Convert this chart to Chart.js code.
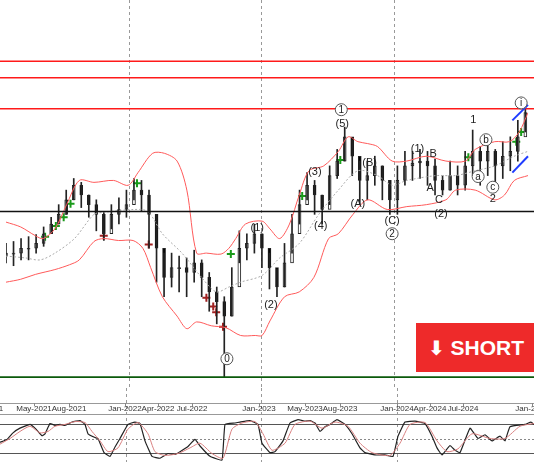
<!DOCTYPE html>
<html><head><meta charset="utf-8">
<script src="https://cdn.jsdelivr.net/npm/chart.js@4/dist/chart.umd.min.js"></script>
<style>
body{margin:0;background:#fff;width:534px;height:462px;overflow:hidden;position:relative;font-family:"Liberation Sans",Arial,sans-serif}
#main{position:absolute;left:0;top:0}
#osc{position:absolute;left:0;top:388px}
#short{position:absolute;left:416px;top:323px;width:130px;height:49px;background:#ee2a2a;color:#fff;font:bold 21px "Liberation Sans",Arial,sans-serif;line-height:49px;padding-left:12px;box-sizing:border-box;white-space:nowrap}
#short span{font-family:"DejaVu Sans";font-size:20px}
</style></head><body>
<canvas id="main" width="534" height="388"></canvas>
<canvas id="osc" width="534" height="74"></canvas>
<div id="short"><span>⬇</span> SHORT</div>
<script>
// price levels are read in chart units (axis is inverted: smaller = higher)
const barStep = 7.7;
const closes = [255,255,250,250,245,235,225,215,200,185, 195,205,215,235,215,210,205,190,195,215,
  250,280,270,270,275,265,280,295,305,320, 290,250,245,235,250,270,290,265,235,205,
  185,195,210,175,160,135,155,180,175,165, 180,200,180,165,162,160,165,180,190,175,
  185,165,150,160,150,165,155,150,135,110];
const highs = [245,243,240,238,236,228,218,205,190,178, 182,195,200,212,205,198,190,178,180,190,
  215,255,255,258,260,252,262,275,290,300, 270,232,235,225,235,255,272,245,215,190,
  172,180,195,165,148,125,138,160,160,155, 165,180,165,150,150,148,150,158,175,160,
  165,150,128,145,138,148,140,135,118,100];
const lows = [265,268,262,262,255,248,235,225,215,200, 208,218,232,242,230,225,218,200,212,250,
  285,300,290,295,300,285,300,315,328,383, 320,265,262,255,270,292,300,290,255,225,
  200,215,225,205,178,160,175,205,200,185, 200,215,215,185,180,178,185,195,195,190,
  195,190,175,185,175,182,178,170,160,130];
const firstOpen = 258;

const upperBand = [[0,223],[15,228],[30,237],[38,240],[50,230],[62,205],[75,180],[90,182],[110,180],[125,185],[135,172],[150,152],[162,152],[175,160],[185,190],[195,255],[205,255],[220,256],[228,250],[235,240],[245,225],[262,222],[270,230],[280,240],[290,225],[300,195],[310,170],[325,165],[340,150],[350,135],[360,140],[370,142],[380,145],[395,160],[410,160],[430,155],[450,160],[470,160],[480,148],[500,140],[515,140],[525,130],[534,110]];
const lowerBand = [[0,285],[15,282],[30,277],[50,272],[65,267],[75,262],[90,243],[100,240],[115,242],[130,242],[140,250],[148,270],[160,300],[175,320],[185,333],[195,326],[210,330],[225,332],[240,340],[255,340],[262,340],[270,325],[285,300],[300,295],[315,280],[330,240],[340,235],[355,215],[370,200],[390,210],[410,207],[430,205],[450,200],[460,190],[480,190],[500,200],[510,195],[520,180],[534,175]];
const midBand = [[0,258],[20,260],[35,262],[50,255],[70,240],[90,215],[100,213],[130,210],[145,212],[160,235],[180,255],[200,280],[215,295],[228,290],[240,285],[262,278],[280,260],[300,245],[320,215],[340,190],[360,170],[380,175],[395,185],[410,180],[440,175],[460,175],[480,170],[500,165],[520,155],[534,150]];

const redLevels = [57, 74, 106];
const blackLevel = 212;
const greenLevel = 383;
const channelLines = [[[518,118],[534,102]], [[518,172],[534,155]]];
const yearLines = [126, 261, 397];

const buySignals = [[40,238],[51,227],[59,218],[66,204],[134,183],[230,256],[303,196],[342,159],[473,156],[522,140],[527,130]];
const sellSignals = [[100,237],[146,246],[205,301],[212,310],[215,316],[222,331]];

// [text, x, level, circled]
const waveLabels = [
  ['1',343,107,true],['(5)',344,121,false],['(3)',316,171,false],['(4)',322,226,false],
  ['(A)',360,204,false],['(B)',372,161,false],['(C)',395,221,false],['2',395,235,true],
  ['(1)',421,147,false],['B',437,152,false],['A',434,187,false],['C',443,200,false],['(2)',445,214,false],
  ['1',478,117,false],['b',491,138,true],['a',483,176,true],['c',498,187,true],['2',498,199,false],
  ['i',527,100,true],['(1)',257,229,false],['(2)',271,308,false],['0',226,364,true]
];

const tickLabels = ['May-2021','Aug-2021','Jan-2022','Apr-2022','Jul-2022','Jan-2023','May-2023','Aug-2023','Jan-2024','Apr-2024','Jul-2024','Jan-2025'];
const tickPos = [34,69,125,158,192,259,305,340,397,430,463,532];

const stochK = [[0,42],[7,48],[13,62],[20,72],[30,80],[36,70],[42,56],[45,60],[50,82],[55,78],[60,80],[65,78],[72,85],[80,88],[85,80],[88,60],[95,52],[98,50],[104,20],[110,12],[115,32],[120,50],[128,80],[135,85],[140,82],[145,45],[152,12],[160,8],[168,18],[175,16],[180,22],[188,33],[195,48],[200,34],[210,12],[222,4],[225,80],[235,83],[240,85],[250,88],[258,80],[262,40],[270,20],[275,22],[283,45],[290,83],[298,90],[305,87],[310,88],[315,83],[320,65],[325,75],[330,80],[337,90],[345,80],[352,60],[360,30],[365,20],[375,15],[385,15],[393,12],[398,55],[405,85],[415,87],[425,82],[432,55],[437,30],[442,15],[450,35],[455,25],[460,20],[470,72],[478,50],[485,58],[492,45],[500,55],[505,45],[510,75],[525,80],[531,85],[534,80]];
const stochD = [[0,38],[10,50],[20,65],[30,76],[40,62],[48,65],[55,76],[65,80],[75,86],[85,84],[92,65],[100,45],[108,22],[118,30],[128,70],[138,84],[148,60],[155,22],[165,14],[178,18],[190,30],[200,40],[212,18],[223,8],[232,70],[242,83],[255,86],[263,60],[272,25],[285,40],[295,80],[310,87],[322,72],[335,85],[348,76],[360,40],[372,20],[390,14],[400,40],[410,80],[425,84],[437,45],[447,22],[458,28],[472,60],[490,50],[505,50],[520,76],[534,82]];

const pts = (arr) => arr.map(([x, y]) => ({ x, y }));
const opens = closes.map((c, i) => i === 0 ? firstOpen : closes[i - 1]);
const wicks = closes.map((c, i) => ({ x: i * barStep, y: [lows[i], highs[i]] }));
const bodies = closes.map((c, i) => ({ x: i * barStep, y: [opens[i], c === opens[i] ? c + 1 : c] }));
const bodyFill = closes.map((c, i) => c > opens[i] ? '#000' : '#fff');

const guides = {
  id: 'guides',
  beforeDatasetsDraw(chart) {
    const { ctx, scales } = chart;
    ctx.save();
    ctx.strokeStyle = '#999';
    ctx.setLineDash([3, 3]);
    ctx.lineWidth = 1;
    yearLines.forEach((v) => {
      const x = Math.round(scales.x.getPixelForValue(v)) + 0.5;
      ctx.beginPath(); ctx.moveTo(x, 0); ctx.lineTo(x, chart.height); ctx.stroke();
    });
    ctx.restore();
  }
};

const levels = {
  id: 'levels',
  afterDatasetsDraw(chart) {
    const { ctx, scales } = chart;
    const line = (v, color, w) => {
      const y = scales.y.getPixelForValue(v);
      ctx.strokeStyle = color; ctx.lineWidth = w;
      ctx.beginPath(); ctx.moveTo(0, y); ctx.lineTo(chart.width, y); ctx.stroke();
    };
    ctx.save();
    redLevels.forEach((v) => line(v, '#ff1a1a', 1.5));
    line(blackLevel, '#111', 1.6);
    line(greenLevel, '#0b5a0b', 1.6);
    ctx.strokeStyle = '#1f3cff'; ctx.lineWidth = 2;
    channelLines.forEach(([a, b]) => {
      ctx.beginPath();
      ctx.moveTo(scales.x.getPixelForValue(a[0]), scales.y.getPixelForValue(a[1]));
      ctx.lineTo(scales.x.getPixelForValue(b[0]), scales.y.getPixelForValue(b[1]));
      ctx.stroke();
    });
    ctx.textAlign = 'center'; ctx.textBaseline = 'middle';
    waveLabels.forEach(([t, xv, yv, circled]) => {
      const x = scales.x.getPixelForValue(xv), y = scales.y.getPixelForValue(yv);
      if (circled) {
        ctx.fillStyle = '#fff'; ctx.strokeStyle = '#555'; ctx.lineWidth = 1;
        ctx.beginPath(); ctx.arc(x, y, 6, 0, Math.PI * 2); ctx.fill(); ctx.stroke();
        ctx.font = '10px "Liberation Sans", Arial';
      } else {
        ctx.font = '11px "Liberation Sans", Arial';
      }
      ctx.fillStyle = '#222';
      ctx.fillText(t, x, y + 0.5);
    });
    ctx.restore();
  }
};

new Chart(document.getElementById('main'), {
  data: {
    datasets: [
      { type: 'line', data: pts(upperBand), borderColor: '#ff5a5a', borderWidth: 1, pointRadius: 0, tension: 0.3 },
      { type: 'line', data: pts(lowerBand), borderColor: '#ff5a5a', borderWidth: 1, pointRadius: 0, tension: 0.3 },
      { type: 'line', data: pts(midBand), borderColor: '#aaa', borderWidth: 1, borderDash: [2, 2], pointRadius: 0, tension: 0.3 },
      { type: 'bar', data: wicks, backgroundColor: '#222', barThickness: 1, grouped: false },
      { type: 'bar', data: bodies, backgroundColor: bodyFill, borderColor: '#222', borderWidth: 1, borderSkipped: false, barThickness: 3, grouped: false },
      { type: 'scatter', data: pts(buySignals), pointStyle: 'cross', pointRadius: 4, borderColor: '#1a9a1a', borderWidth: 2 },
      { type: 'scatter', data: pts(sellSignals), pointStyle: 'cross', pointRadius: 4, borderColor: '#a02020', borderWidth: 2 }
    ]
  },
  options: {
    responsive: false, animation: false,
    layout: { padding: 0 },
    plugins: { legend: { display: false }, tooltip: { enabled: false } },
    scales: {
      x: { type: 'linear', min: 0, max: 534, offset: false, display: false, grid: { offset: false } },
      y: { type: 'linear', min: 0, max: 388, reverse: true, display: false }
    }
  },
  plugins: [guides, levels]
});

const oscFrame = {
  id: 'oscFrame',
  beforeDatasetsDraw(chart) {
    const { ctx, scales } = chart;
    ctx.save();
    ctx.strokeStyle = '#999'; ctx.lineWidth = 1;
    [15.5, 26.5].forEach((y) => { ctx.beginPath(); ctx.moveTo(0, y); ctx.lineTo(chart.width, y); ctx.stroke(); });
    ctx.strokeStyle = '#555';
    [80, 20].forEach((v) => {
      const y = Math.round(scales.y.getPixelForValue(v)) + 0.5;
      ctx.beginPath(); ctx.moveTo(0, y); ctx.lineTo(chart.width, y); ctx.stroke();
    });
    ctx.setLineDash([2, 2]); ctx.strokeStyle = '#888';
    const y50 = Math.round(scales.y.getPixelForValue(50)) + 0.5;
    ctx.beginPath(); ctx.moveTo(0, y50); ctx.lineTo(chart.width, y50); ctx.stroke();
    ctx.setLineDash([]);
    ctx.font = '8px "Liberation Sans", Arial'; ctx.fillStyle = '#333';
    ctx.textAlign = 'center'; ctx.textBaseline = 'middle';
    tickLabels.forEach((t, i) => {
      const x = scales.x.getPixelForValue(tickPos[i]);
      ctx.fillText(t, x, 21);
      ctx.beginPath(); ctx.moveTo(Math.round(x) + 0.5, 15); ctx.lineTo(Math.round(x) + 0.5, 18); ctx.stroke();
    });
    ctx.fillText('1', 1, 21);
    ctx.restore();
  }
};

new Chart(document.getElementById('osc'), {
  type: 'line',
  data: {
    datasets: [
      { data: pts(stochD), borderColor: '#d98080', borderWidth: 1, pointRadius: 0, tension: 0.2 },
      { data: pts(stochK), borderColor: '#222', borderWidth: 1.2, pointRadius: 0, tension: 0.1 }
    ]
  },
  options: {
    responsive: false, animation: false,
    layout: { padding: { top: 27, bottom: 0, left: 0, right: 0 } },
    plugins: { legend: { display: false }, tooltip: { enabled: false } },
    scales: {
      x: { type: 'linear', min: 0, max: 534, display: false },
      y: { type: 'linear', min: 0, max: 100, display: false }
    }
  },
  plugins: [guides, oscFrame]
});
</script>
</body></html>
